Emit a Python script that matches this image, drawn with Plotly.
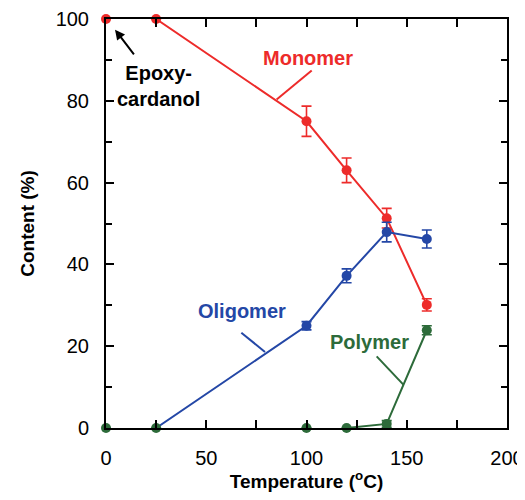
import plotly.graph_objects as go

# Data
temps = [0, 25, 100, 120, 140, 160]
monomer = [100, 100, 75, 63, 51.3, 30.1]
monomer_err = [0, 0, 3.7, 3.0, 2.4, 1.5]
oligo_temps = [25, 100, 120, 140, 160]
oligomer = [0, 25.0, 37.2, 47.9, 46.2]
oligomer_err = [0, 1.0, 1.7, 2.4, 2.2]
polymer = [0, 0, 0, 0, 1.0, 23.9]
polymer_err = [0, 0, 0, 0, 0.8, 1.1]
x_ticks = [0, 50, 100, 150, 200]
y_ticks = [0, 20, 40, 60, 80, 100]

RED = "#ED2B2A"
BLUE = "#2447A6"
GREEN = "#2D6B3A"
FONT = "Liberation Sans, Arial, sans-serif"
LBL = 20

fig = go.Figure()

def err(vals, color):
    return dict(type="data", array=vals, visible=True, color=color, thickness=1.6, width=5)

fig.add_trace(go.Scatter(x=temps[1:], y=monomer[1:], mode="lines", line=dict(color=RED, width=2),
                         cliponaxis=False, showlegend=False, hoverinfo="skip"))
fig.add_trace(go.Scatter(x=oligo_temps, y=oligomer, mode="lines", line=dict(color=BLUE, width=2),
                         cliponaxis=False, showlegend=False, hoverinfo="skip"))
fig.add_trace(go.Scatter(x=temps[3:], y=polymer[3:], mode="lines", line=dict(color=GREEN, width=2),
                         cliponaxis=False, showlegend=False, hoverinfo="skip"))

fig.add_trace(go.Scatter(x=temps, y=monomer, mode="markers", marker=dict(color=RED, size=10),
                         error_y=err(monomer_err, RED), cliponaxis=False, showlegend=False))
fig.add_trace(go.Scatter(x=oligo_temps[1:], y=oligomer[1:], mode="markers", marker=dict(color=BLUE, size=10),
                         error_y=err(oligomer_err[1:], BLUE), cliponaxis=False, showlegend=False))
fig.add_trace(go.Scatter(x=temps, y=polymer, mode="markers", marker=dict(color=GREEN, size=10),
                         error_y=err(polymer_err, GREEN), cliponaxis=False, showlegend=False))

# Labels
fig.add_annotation(x=100.5, y=90.5, text="<b>Monomer</b>", showarrow=False,
                   font=dict(color=RED, size=LBL, family=FONT))
fig.add_annotation(x=68, y=28.6, text="<b>Oligomer</b>", showarrow=False,
                   font=dict(color=BLUE, size=LBL, family=FONT))
fig.add_annotation(x=131.5, y=21.1, text="<b>Polymer</b>", showarrow=False,
                   font=dict(color=GREEN, size=LBL, family=FONT))
fig.add_annotation(x=26, y=83.7, text="<b>Epoxy-<br>cardanol</b>", showarrow=False, align="center",
                   font=dict(color="black", size=LBL, family=FONT))

# Leader lines
fig.add_shape(type="line", x0=102.6, y0=87.4, x1=85.1, y1=80.3, xref="x", yref="y",
              line=dict(color=RED, width=2))
fig.add_shape(type="line", x0=67.5, y0=23.3, x1=79.3, y1=18.6, xref="x", yref="y",
              line=dict(color=BLUE, width=2))
fig.add_shape(type="line", x0=135, y0=17.5, x1=148.3, y1=10.6, xref="x", yref="y",
              line=dict(color=GREEN, width=2))
# Arrow
fig.add_annotation(x=4.5, y=97.4, ax=14.5, ay=91, axref="x", ayref="y", text="", showarrow=True,
                   arrowhead=2, arrowsize=1, arrowwidth=2, arrowcolor="black")

axis_common = dict(showline=True, linecolor="black", linewidth=2, mirror="ticks", ticks="inside",
                   tickcolor="black", tickwidth=2, ticklen=8, showgrid=False, zeroline=False,
                   automargin=False, tickprefix="<b>", ticksuffix="</b>", ticklabeloverflow="allow",
                   tickfont=dict(size=LBL, family=FONT, color="black"))

fig.update_xaxes(range=[0, 200], tickvals=x_ticks, ticklabelstandoff=11,
                 minor=dict(ticks="inside", dtick=25, tick0=0, ticklen=8, tickwidth=2, tickcolor="black"),
                 title=dict(text="<b>Temperature (<sup>o</sup>C)</b>", font=dict(size=19, family=FONT, color="black"),
                            standoff=11),
                 **axis_common)
fig.update_yaxes(range=[0, 100], tickvals=y_ticks, ticklabelstandoff=11,
                 minor=dict(ticks="inside", dtick=10, tick0=0, ticklen=6, tickwidth=2, tickcolor="black"),
                 title=dict(text="<b>Content (%)</b>", font=dict(size=19, family=FONT, color="black"), standoff=16),
                 **axis_common)

# page body has an 8px default margin, so the figure is offset by 8px;
# keep the page within the window so no scrollbar appears
fig.update_layout(width=517, height=484, margin=dict(l=98, r=18, t=11, b=64),
                  plot_bgcolor="white", paper_bgcolor="white",
                  font=dict(family=FONT, color="black"))

fig.write_html("out.html")
